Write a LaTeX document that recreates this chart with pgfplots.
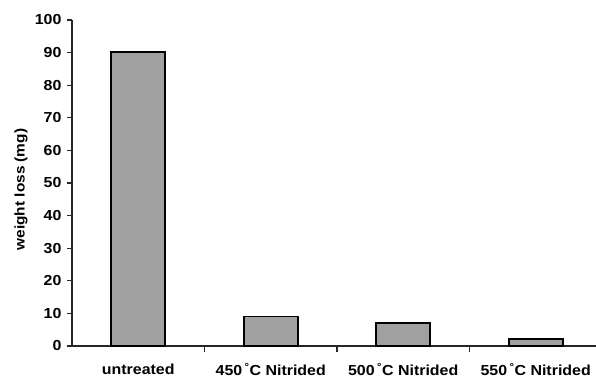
\documentclass[border=0pt]{standalone}
\usepackage{fontspec}
\setmainfont{Liberation Sans}[FakeStretch=1.1]
\usepackage{pgfplots}
\pgfplotsset{compat=1.18}
\definecolor{barfill}{RGB}{160,160,160}
\begin{document}
\begin{tikzpicture}
\begin{axis}[
  scale only axis, width=524bp, height=326bp,
  xmin=-0.5, xmax=3.455, ymin=0, ymax=100,
  axis x line*=bottom, axis y line*=left,
  axis line style={-, line width=1.2bp, black!85},
  xtick={0,1,2,3},
  xticklabels={untreated, 450\,\textsuperscript{°}C Nitrided, 500\,\textsuperscript{°}C Nitrided, 550\,\textsuperscript{°}C Nitrided},
  minor xtick={0.5,1.5,2.5},
  major x tick style={draw=none},
  minor x tick style={black!85, line width=1.2bp},
  ytick={0,10,...,100},
  y tick style={black!85, line width=1.2bp},
  tick align=outside, major tick length=5bp, minor tick length=6bp,
  ticklabel style={font=\fontsize{14.5bp}{17bp}\selectfont\bfseries, text=black},
  /pgf/number format/assume math mode=true,
  xticklabel style={yshift=-9bp},
  yticklabel style={xshift=-2bp},
  every axis y label/.style={at={([xshift=-51bp]axis description cs:0,0.48)}, rotate=90, anchor=center, font=\fontsize{14bp}{16bp}\selectfont\bfseries, text=black},
  ylabel={weight loss (mg)},
]
\addplot[ybar, bar width=54bp, fill=barfill, draw=black, line width=1.6bp] coordinates {(0,90.2) (1,9) (2,7.1) (3,2.2)};
\coordinate (O) at (rel axis cs:0,0);
\end{axis}
\pgfresetboundingbox
\path (O) ++(-72bp,-32bp) rectangle ++(596bp,378bp);
\end{tikzpicture}
\end{document}
